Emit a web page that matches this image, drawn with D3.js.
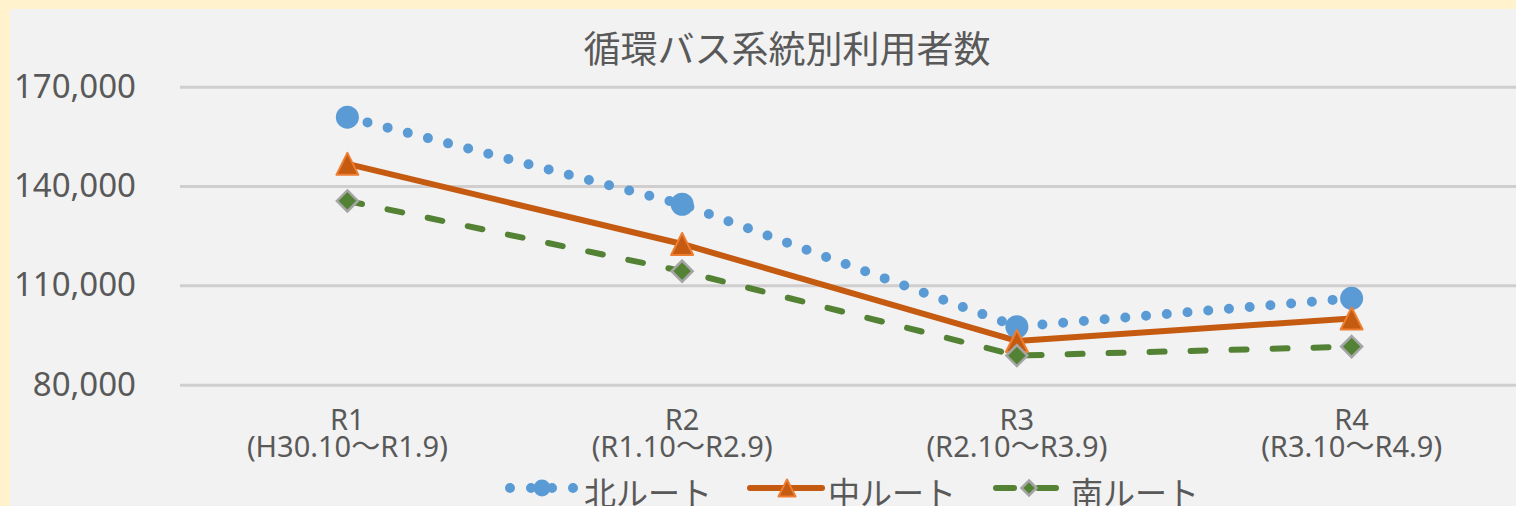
<!DOCTYPE html>
<html>
<head>
<meta charset="utf-8">
<script src="https://cdn.jsdelivr.net/npm/d3@7"></script>
<style>
  body { margin: 0; background: #FFF2CC; }
  text { fill: #595959; }
</style>
</head>
<body>
<div class="svg-target"></div>
<script>
const w = 1516;
const h = 506;

// data
const categories = ['R1', 'R2', 'R3', 'R4'];
const periods = ['(H30.10～R1.9)', '(R1.10～R2.9)', '(R2.10～R3.9)', '(R3.10～R4.9)'];
const kita = [160800, 134500, 97500, 106100];
const naka = [146700, 122500, 93200, 100000];
const minami = [135500, 114300, 88800, 91500];
const yTicks = [80000, 110000, 140000, 170000];

const seriesNames = ['北ルート', '中ルート', '南ルート'];
const seriesValues = [kita, naka, minami];

const svg = d3.select('.svg-target')
    .append('svg')
    .attr('width', w)
    .attr('height', h)
    .style('display', 'block');

// chart area
svg.append('rect')
    .attr('x', 10)
    .attr('y', 9)
    .attr('width', w)
    .attr('height', h)
    .attr('fill', '#F2F2F2');

// title
svg.append('text')
    .attr('x', 787)
    .attr('y', 63)
    .attr('text-anchor', 'middle')
    .style('font-family', '"Noto Sans CJK JP", sans-serif')
    .style('font-size', '37px')
    .text('循環バス系統別利用者数');

const xScale = d3.scalePoint()
    .domain(categories)
    .range([180, 1519])
    .padding(0.5);

const yScale = d3.scaleLinear()
    .domain([80000, 170000])
    .range([384.7, 86.7]);

// gridlines + y axis
const yAxis = d3.axisLeft(yScale)
    .tickValues(yTicks)
    .tickFormat(d3.format(','))
    .tickSize(-(w - 180 + 10))
    .tickPadding(44);

const gy = svg.append('g')
    .attr('transform', 'translate(180, 0)')
    .call(yAxis);
gy.select('.domain').remove();
gy.selectAll('line').attr('stroke', '#D0CECE').attr('stroke-width', 3);
gy.selectAll('text')
    .style('font-family', '"Noto Sans", sans-serif')
    .style('font-size', '33px')
    .attr('fill', '#595959');

// x labels (two lines each)
const gx = svg.append('g')
    .style('font-family', '"Noto Sans", "Noto Sans CJK JP", sans-serif')
    .style('font-size', '29px')
    .attr('text-anchor', 'middle');
categories.forEach((c, i) => {
    gx.append('text').attr('x', xScale(c)).attr('y', 430).text(c);
    gx.append('text').attr('x', xScale(c)).attr('y', 457).text(periods[i]);
});

const styles = [
    { color: '#5B9BD5', width: 10, dash: '0 20.8', cap: 'round' },
    { color: '#C55A11', width: 6, dash: null, cap: 'butt' },
    { color: '#548235', width: 6, dash: '15 26', cap: 'round' }
];

const line = d3.line()
    .x((d, i) => xScale(categories[i]))
    .y(d => yScale(d));

seriesValues.forEach((vals, s) => {
    const st = styles[s];
    svg.append('path')
        .datum(vals)
        .attr('d', line)
        .attr('fill', 'none')
        .attr('stroke', st.color)
        .attr('stroke-width', st.width)
        .attr('stroke-linecap', st.cap)
        .attr('stroke-linejoin', 'round')
        .attr('stroke-dasharray', st.dash);
});

// markers
const drawMarker = (g, s, x, y, size) => {
    if (s === 0) {
        g.append('circle')
            .attr('cx', x).attr('cy', y).attr('r', size / 2)
            .attr('fill', '#5B9BD5');
    } else if (s === 1) {
        g.append('path')
            .attr('d', `M${x},${y - size / 2}L${x + size / 2},${y + size / 2}L${x - size / 2},${y + size / 2}Z`)
            .attr('fill', '#C55A11')
            .attr('stroke', '#ED7D31')
            .attr('stroke-width', 2)
            .attr('stroke-linejoin', 'round');
    } else {
        const r = size / 2;
        g.append('path')
            .attr('d', `M${x},${y - r}L${x + r},${y}L${x},${y + r}L${x - r},${y}Z`)
            .attr('fill', '#548235')
            .attr('stroke', '#A5A5A5')
            .attr('stroke-width', 2.5);
    }
};

const markerSizes = [23, 22, 21];
seriesValues.forEach((vals, s) => {
    const g = svg.append('g');
    vals.forEach((v, i) => drawMarker(g, s, xScale(categories[i]), yScale(v), markerSizes[s]));
});

// legend
const legend = [
    { x1: 510, x2: 574, mx: 542, tx: 584 },
    { x1: 750, x2: 822, mx: 787, tx: 828 },
    { x1: 996, x2: 1056, mx: 1029, tx: 1071 }
];
const legendDash = ['0 21', null, '18 24'];
const legendSizes = [17, 17, 15];
const ly = 488;
legend.forEach((l, s) => {
    const st = styles[s];
    const g = svg.append('g');
    g.append('line')
        .attr('x1', l.x1).attr('x2', l.x2)
        .attr('y1', ly).attr('y2', ly)
        .attr('stroke', st.color)
        .attr('stroke-width', st.width)
        .attr('stroke-linecap', 'round')
        .attr('stroke-dasharray', legendDash[s]);
    drawMarker(g, s, l.mx, ly, legendSizes[s]);
    g.append('text')
        .attr('x', l.tx)
        .attr('y', 505)
        .style('font-family', '"Noto Sans CJK JP", sans-serif')
        .style('font-size', '32px')
        .text(seriesNames[s]);
});
</script>
</body>
</html>
